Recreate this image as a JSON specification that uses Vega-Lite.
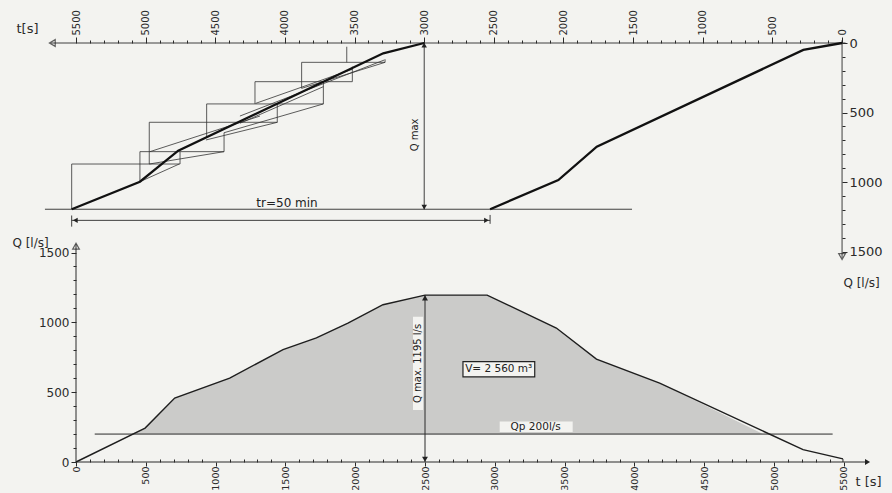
{
  "$schema": "https://vega.github.io/schema/vega-lite/v6.json",
  "width": 796,
  "height": 419,
  "autosize": {"type": "none"},
  "padding": {"left": 76, "top": 43, "right": 20, "bottom": 31},
  "background": "#f3f3f0",
  "config": {
    "view": {"stroke": null},
    "axis": {"grid": false, "domain": false, "labelFont": "DejaVu Sans", "labelColor": "#2a2a2a", "tickColor": "#2a2a2a", "titleFont": "DejaVu Sans", "titleFontWeight": "normal", "titleColor": "#2a2a2a", "labelOverlap": false, "labelBound": false, "labelFlush": false, "titleAngle": 0, "titleAlign": "center", "titleBaseline": "middle", "titlePadding": 0},
    "text": {"font": "DejaVu Sans", "color": "#222222"}
  },
  "datasets": {
    "hydro": [
      {"t": 0, "Q": 0}, {"t": 495, "Q": 243}, {"t": 707, "Q": 458}, {"t": 1101, "Q": 601}, {"t": 1483, "Q": 804}, {"t": 1722, "Q": 888}, {"t": 1948, "Q": 995}, {"t": 2199, "Q": 1126}, {"t": 2500, "Q": 1195}, {"t": 2945, "Q": 1195}, {"t": 3441, "Q": 959}, {"t": 3728, "Q": 737}, {"t": 4181, "Q": 565}, {"t": 5208, "Q": 88}, {"t": 5494, "Q": 22}
    ],
    "shade": [
      {"t": 397, "Q": 200}, {"t": 495, "Q": 243}, {"t": 707, "Q": 458}, {"t": 1101, "Q": 601}, {"t": 1483, "Q": 804}, {"t": 1722, "Q": 888}, {"t": 1948, "Q": 995}, {"t": 2199, "Q": 1126}, {"t": 2500, "Q": 1195}, {"t": 2945, "Q": 1195}, {"t": 3441, "Q": 959}, {"t": 3728, "Q": 737}, {"t": 4181, "Q": 565}, {"t": 4921, "Q": 200}
    ],
    "lowerSeg": [
      {"t": 0, "Q": 0, "t2": 5670, "Q2": 0},
      {"t": 0, "Q": 0, "t2": 0, "Q2": 1560},
      {"t": 134, "Q": 200, "t2": 5420, "Q2": 200},
      {"t": 2500, "Q": 0, "t2": 2500, "Q2": 1195},
      {"t": 5494, "Q": 22, "t2": 5494, "Q2": 0}
    ],
    "lowerBox": [
      {"t": 2414, "Q": 372, "t2": 2486, "Q2": 1040},
      {"t": 3035, "Q": 215, "t2": 3558, "Q2": 290}
    ],
    "lowerFrame": [
      {"t": 2772, "Q": 610, "t2": 3286, "Q2": 718}
    ],
    "lowerOpenArrow": [{"t": 0, "Q": 1545, "dir": "up"}],
    "lowerFillArrow": [
      {"t": 5670, "Q": 0, "dir": "right"},
      {"t": 2500, "Q": 1175, "dir": "up"},
      {"t": 2500, "Q": 20, "dir": "down"}
    ],
    "lowerTextH": [
      {"t": 3028, "Q": 664, "label": "V= 2 560 m³"},
      {"t": 3293, "Q": 250, "label": "Qp 200l/s"}
    ],
    "lowerTextV": [
      {"t": 2450, "Q": 706, "label": "Q max. 1195 l/s"}
    ],
    "upperCurve": [
      {"c": "a", "t": 0, "Q": 0}, {"c": "a", "t": 278, "Q": 50}, {"c": "a", "t": 1761, "Q": 745}, {"c": "a", "t": 2037, "Q": 985}, {"c": "a", "t": 2527, "Q": 1195},
      {"c": "b", "t": 3000, "Q": 0}, {"c": "b", "t": 3294, "Q": 74}, {"c": "b", "t": 4766, "Q": 774}, {"c": "b", "t": 5041, "Q": 997}, {"c": "b", "t": 5531, "Q": 1195}
    ],
    "upperSeg": [
      {"t": -25, "Q": 0, "t2": 5680, "Q2": 0},
      {"t": 0, "Q": -20, "t2": 0, "Q2": 1545},
      {"t": 1508, "Q": 1195, "t2": 5723, "Q2": 1195},
      {"t": 3000, "Q": 0, "t2": 3000, "Q2": 1195},
      {"t": 2527, "Q": 1275, "t2": 5531, "Q2": 1275},
      {"t": 5531, "Q": 1240, "t2": 5531, "Q2": 1320},
      {"t": 2527, "Q": 1236, "t2": 2527, "Q2": 1300}
    ],
    "stairs": [
      {"t": 5531, "Q": 870, "t2": 4753, "Q2": 870},
      {"t": 5041, "Q": 781, "t2": 4437, "Q2": 781},
      {"t": 4974, "Q": 570, "t2": 4055, "Q2": 570},
      {"t": 4562, "Q": 438, "t2": 3724, "Q2": 438},
      {"t": 4215, "Q": 278, "t2": 3516, "Q2": 278},
      {"t": 3880, "Q": 139, "t2": 3281, "Q2": 139},
      {"t": 5531, "Q": 870, "t2": 5531, "Q2": 1195},
      {"t": 5041, "Q": 781, "t2": 5041, "Q2": 997},
      {"t": 4974, "Q": 570, "t2": 4974, "Q2": 870},
      {"t": 4753, "Q": 781, "t2": 4753, "Q2": 870},
      {"t": 4562, "Q": 438, "t2": 4562, "Q2": 676},
      {"t": 4437, "Q": 645, "t2": 4437, "Q2": 781},
      {"t": 4215, "Q": 278, "t2": 4215, "Q2": 438},
      {"t": 4055, "Q": 438, "t2": 4055, "Q2": 570},
      {"t": 3880, "Q": 139, "t2": 3880, "Q2": 326},
      {"t": 3724, "Q": 278, "t2": 3724, "Q2": 438},
      {"t": 3556, "Q": 27, "t2": 3556, "Q2": 139},
      {"t": 3516, "Q": 170, "t2": 3516, "Q2": 278},
      {"t": 3281, "Q": 117, "t2": 3281, "Q2": 139},
      {"t": 5041, "Q": 997, "t2": 4759, "Q2": 870},
      {"t": 4974, "Q": 870, "t2": 4437, "Q2": 781},
      {"t": 4969, "Q": 781, "t2": 4179, "Q2": 525},
      {"t": 4567, "Q": 697, "t2": 4054, "Q2": 570},
      {"t": 4437, "Q": 645, "t2": 3724, "Q2": 438},
      {"t": 4323, "Q": 525, "t2": 3286, "Q2": 122},
      {"t": 4210, "Q": 434, "t2": 3516, "Q2": 189},
      {"t": 4323, "Q": 577, "t2": 3724, "Q2": 314},
      {"t": 3880, "Q": 326, "t2": 3281, "Q2": 139}
    ],
    "upperOpenArrow": [
      {"t": 5670, "Q": 0, "dir": "left"},
      {"t": 0, "Q": 1535, "dir": "down"}
    ],
    "upperFillArrow": [
      {"t": 3000, "Q": 15, "dir": "up"},
      {"t": 3000, "Q": 1180, "dir": "down"},
      {"t": 5505, "Q": 1275, "dir": "left"},
      {"t": 2553, "Q": 1275, "dir": "right"}
    ],
    "upperTextH": [
      {"t": 3985, "Q": 1150, "label": "tr=50 min"}
    ],
    "upperTextV": [
      {"t": 3066, "Q": 661, "label": "Q max"}
    ]
  },
  "layer": [
    {
      "encoding": {
        "x": {"field": "t", "type": "quantitative", "scale": {"domain": [0, 5702], "nice": false, "zero": false},
          "axis": {"orient": "bottom", "values": [0,100,200,300,400,500,600,700,800,900,1000,1100,1200,1300,1400,1500,1600,1700,1800,1900,2000,2100,2200,2300,2400,2500,2600,2700,2800,2900,3000,3100,3200,3300,3400,3500,3600,3700,3800,3900,4000,4100,4200,4300,4400,4500,4600,4700,4800,4900,5000,5100,5200,5300,5400,5500],
            "format": "d", "labelExpr": "datum.value % 500 === 0 ? datum.label : ''", "labelAngle": -90, "labelFontSize": 9.5, "labelPadding": 0,
            "tickSize": {"condition": {"test": "datum.value % 500 === 0", "value": 4}, "value": -3},
            "title": "t [s]", "titleFontSize": 13, "titleX": 792, "titleY": 19}},
        "y": {"field": "Q", "type": "quantitative", "scale": {"domain": [0, 3000], "nice": false, "zero": false},
          "axis": {"orient": "left", "values": [0,100,200,300,400,500,600,700,800,900,1000,1100,1200,1300,1400,1500],
            "format": "d", "labelExpr": "datum.value % 500 === 0 ? datum.label : ''", "labelFontSize": 12, "labelPadding": 2,
            "tickSize": {"condition": {"test": "datum.value % 500 === 0", "value": 5}, "value": 3},
            "title": "Q [l/s]", "titleFontSize": 12, "titleX": -46, "titleY": 199}}
      },
      "layer": [
        {"data": {"name": "shade"}, "mark": {"type": "area", "fill": "#cbcbc9", "stroke": null}, "encoding": {"y2": {"datum": 200}}},
        {"data": {"name": "lowerBox"}, "mark": {"type": "rect", "fill": "#f3f3f0"}, "encoding": {"x2": {"field": "t2"}, "y2": {"field": "Q2"}}},
        {"data": {"name": "lowerSeg"}, "mark": {"type": "rule", "stroke": "#2a2a2a", "strokeWidth": 1}, "encoding": {"x2": {"field": "t2"}, "y2": {"field": "Q2"}}},
        {"data": {"name": "hydro"}, "mark": {"type": "line", "stroke": "#1e1e1e", "strokeWidth": 1.4}, "encoding": {}},
        {"data": {"name": "lowerFrame"}, "mark": {"type": "rect", "fill": "#f3f3f0", "stroke": "#222222", "strokeWidth": 1.2}, "encoding": {"x2": {"field": "t2"}, "y2": {"field": "Q2"}}},
        {"data": {"name": "lowerOpenArrow"}, "mark": {"type": "point", "filled": false, "stroke": "#222222", "strokeWidth": 1.2, "size": 45},
          "encoding": {"shape": {"field": "dir", "type": "nominal", "scale": {"domain": ["up", "down", "left", "right"], "range": ["triangle-up", "triangle-down", "triangle-left", "triangle-right"]}, "legend": null}}},
        {"data": {"name": "lowerFillArrow"}, "mark": {"type": "point", "filled": true, "fill": "#222222", "opacity": 1, "size": 35},
          "encoding": {"shape": {"field": "dir", "type": "nominal", "scale": {"domain": ["up", "down", "left", "right"], "range": ["triangle-up", "triangle-down", "triangle-left", "triangle-right"]}, "legend": null}}},
        {"data": {"name": "lowerTextH"}, "mark": {"type": "text", "fontSize": 10.5, "align": "center", "baseline": "middle"}, "encoding": {"text": {"field": "label"}}},
        {"data": {"name": "lowerTextV"}, "mark": {"type": "text", "fontSize": 10, "angle": 270, "align": "center", "baseline": "middle"}, "encoding": {"text": {"field": "label"}}}
      ]
    },
    {
      "encoding": {
        "x": {"field": "t", "type": "quantitative", "scale": {"domain": [-215, 5500], "nice": false, "zero": false, "reverse": true},
          "axis": {"orient": "top", "values": [0,100,200,300,400,500,600,700,800,900,1000,1100,1200,1300,1400,1500,1600,1700,1800,1900,2000,2100,2200,2300,2400,2500,2600,2700,2800,2900,3000,3100,3200,3300,3400,3500,3600,3700,3800,3900,4000,4100,4200,4300,4400,4500,4600,4700,4800,4900,5000,5100,5200,5300,5400,5500],
            "format": "d", "labelExpr": "datum.value % 500 === 0 ? datum.label : ''", "labelAngle": -90, "labelFontSize": 10, "labelPadding": 2,
            "tickSize": {"condition": {"test": "datum.value % 500 === 0", "value": 6}, "value": 3},
            "title": "t[s]", "titleFontSize": 13, "titleX": -49, "titleY": -15}},
        "y": {"field": "Q", "type": "quantitative", "scale": {"domain": [0, 3012], "nice": false, "zero": false, "reverse": true},
          "axis": {"orient": "right", "offset": -30, "values": [0,100,200,300,400,500,600,700,800,900,1000,1100,1200,1300,1400,1500],
            "format": "d", "labelExpr": "datum.value % 500 === 0 ? datum.label : ''", "labelFontSize": 13, "labelPadding": 2,
            "tickSize": {"condition": {"test": "datum.value % 500 === 0", "value": 5}, "value": 3},
            "title": "Q  [l/s]", "titleFontSize": 12, "titleX": 19, "titleY": 239}}
      },
      "layer": [
        {"data": {"name": "upperSeg"}, "mark": {"type": "rule", "stroke": "#2a2a2a", "strokeWidth": 0.9}, "encoding": {"x2": {"field": "t2"}, "y2": {"field": "Q2"}}},
        {"data": {"name": "stairs"}, "mark": {"type": "rule", "stroke": "#333333", "strokeWidth": 0.8}, "encoding": {"x2": {"field": "t2"}, "y2": {"field": "Q2"}}},
        {"data": {"name": "upperCurve"}, "mark": {"type": "line", "stroke": "#111111", "strokeWidth": 2.3}, "encoding": {"detail": {"field": "c"}}},
        {"data": {"name": "upperOpenArrow"}, "mark": {"type": "point", "filled": false, "stroke": "#222222", "strokeWidth": 1.2, "size": 45},
          "encoding": {"shape": {"field": "dir", "type": "nominal", "scale": {"domain": ["up", "down", "left", "right"], "range": ["triangle-up", "triangle-down", "triangle-left", "triangle-right"]}, "legend": null}}},
        {"data": {"name": "upperFillArrow"}, "mark": {"type": "point", "filled": true, "fill": "#222222", "opacity": 1, "size": 30},
          "encoding": {"shape": {"field": "dir", "type": "nominal", "scale": {"domain": ["up", "down", "left", "right"], "range": ["triangle-up", "triangle-down", "triangle-left", "triangle-right"]}, "legend": null}}},
        {"data": {"name": "upperTextH"}, "mark": {"type": "text", "fontSize": 12, "align": "center", "baseline": "middle"}, "encoding": {"text": {"field": "label"}}},
        {"data": {"name": "upperTextV"}, "mark": {"type": "text", "fontSize": 10, "angle": 270, "align": "center", "baseline": "middle"}, "encoding": {"text": {"field": "label"}}}
      ]
    }
  ],
  "resolve": {"scale": {"x": "independent", "y": "independent", "shape": "independent"}}
}
